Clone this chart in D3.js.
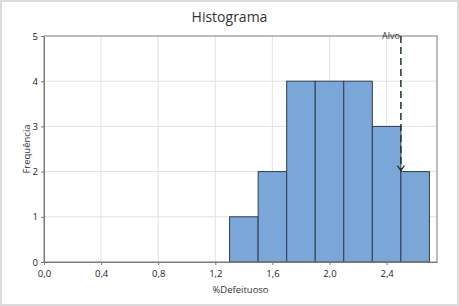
<!DOCTYPE html>
<html>
<head>
<meta charset="utf-8">
<script src="https://cdn.jsdelivr.net/npm/d3@7"></script>
<style>
  body { margin: 0; background: #fff; }
  svg { display: block; font-family: "Open Sans", "Noto Sans", sans-serif; }
</style>
</head>
<body>
<div id="chart"></div>
<script>
// bins of %Defeituoso (width 0.2) and their counts
var binStart = [1.3, 1.5, 1.7, 1.9, 2.1, 2.3, 2.5];
var binWidth = 0.2;
var counts = [1, 2, 4, 4, 4, 3, 2];
var xTicks = [0, 0.4, 0.8, 1.2, 1.6, 2.0, 2.4];
var yTicks = [0, 1, 2, 3, 4, 5];
var target = 2.5;
var targetArrowTo = 2; // frequency where the arrow stops

var W = 459, H = 306;
var m = { left: 44, right: 22, top: 36, bottom: 44 };

var svg = d3.select('#chart').append('svg')
  .attr('width', W)
  .attr('height', H);

svg.append('rect')
  .attr('x', 1).attr('y', 1)
  .attr('width', W - 2).attr('height', H - 2)
  .attr('fill', '#fff')
  .attr('stroke', '#dcdcdc')
  .attr('stroke-width', 2);

var x = d3.scaleLinear().domain([0, 2.753]).range([m.left, W - m.right]);
var y = d3.scaleLinear().domain([0, 5]).range([H - m.bottom, m.top]);

// grid
svg.append('g').selectAll('line')
  .data(xTicks.slice(1))
  .enter().append('line')
  .attr('x1', function(d) { return x(d); })
  .attr('x2', function(d) { return x(d); })
  .attr('y1', y(0)).attr('y2', y(5))
  .attr('stroke', '#e3e3e3');

svg.append('g').selectAll('line')
  .data(yTicks.slice(1, 5))
  .enter().append('line')
  .attr('x1', x.range()[0]).attr('x2', x.range()[1])
  .attr('y1', function(d) { return y(d); })
  .attr('y2', function(d) { return y(d); })
  .attr('stroke', '#e3e3e3');

// bars
svg.append('g').selectAll('rect')
  .data(counts)
  .enter().append('rect')
  .attr('x', function(d, i) { return x(binStart[i]); })
  .attr('y', function(d) { return y(d); })
  .attr('width', function(d, i) { return x(binStart[i] + binWidth) - x(binStart[i]); })
  .attr('height', function(d) { return y(0) - y(d); })
  .attr('fill', '#7ba7d8')
  .attr('stroke', '#2e3d4d')
  .attr('stroke-width', 1);

// frame
svg.append('rect')
  .attr('x', x.range()[0]).attr('y', y(5))
  .attr('width', x.range()[1] - x.range()[0])
  .attr('height', y(0) - y(5))
  .attr('fill', 'none')
  .attr('stroke', '#7a7a7a');

// axes
var fmt = function(d) { return d3.format('.1f')(d).replace('.', ','); };

var xAxis = svg.append('g')
  .attr('transform', 'translate(0,' + y(0) + ')')
  .call(d3.axisBottom(x).tickValues(xTicks).tickFormat(fmt).tickSize(3).tickSizeOuter(0));
var yAxis = svg.append('g')
  .attr('transform', 'translate(' + x(0) + ',0)')
  .call(d3.axisLeft(y).tickValues(yTicks).tickFormat(d3.format('d')).tickSize(3).tickSizeOuter(0));

[xAxis, yAxis].forEach(function(a) {
  a.select('.domain').attr('stroke', '#7a7a7a');
  a.selectAll('.tick line').attr('stroke', '#7a7a7a');
  a.selectAll('.tick text')
    .attr('fill', '#222')
    .style('font-size', '9.5px')
    .style('font-family', '"Open Sans", "Noto Sans", sans-serif');
});
xAxis.selectAll('.tick text').attr('dy', '0.9em');

// target line
svg.append('line')
  .attr('x1', x(target)).attr('x2', x(target))
  .attr('y1', y(5)).attr('y2', y(targetArrowTo) - 2)
  .attr('stroke', '#1e3a1e')
  .attr('stroke-width', 1.5)
  .attr('stroke-dasharray', '7,4');

svg.append('path')
  .attr('d', 'M' + (x(target) - 3.5) + ',' + (y(targetArrowTo) - 6) +
             'L' + x(target) + ',' + (y(targetArrowTo) - 1) +
             'L' + (x(target) + 3.5) + ',' + (y(targetArrowTo) - 6))
  .attr('fill', 'none')
  .attr('stroke', '#1e2a1e')
  .attr('stroke-width', 1.2);

svg.append('text')
  .attr('x', x(target) - 1)
  .attr('y', y(5) + 3)
  .attr('text-anchor', 'end')
  .style('font-size', '9px')
  .attr('fill', '#333')
  .text('Alvo');

// titles
svg.append('text')
  .attr('x', W / 2).attr('y', 22)
  .attr('text-anchor', 'middle')
  .style('font-size', '14px')
  .attr('fill', '#333')
  .text('Histograma');

svg.append('text')
  .attr('x', (x.range()[0] + x.range()[1]) / 2)
  .attr('y', 293)
  .attr('text-anchor', 'middle')
  .style('font-size', '9.5px')
  .attr('fill', '#333')
  .text('%Defeituoso');

svg.append('text')
  .attr('transform', 'translate(30,' + ((y(0) + y(5)) / 2) + ') rotate(-90)')
  .attr('text-anchor', 'middle')
  .style('font-size', '9.5px')
  .attr('fill', '#333')
  .text('Frequência');
</script>
</body>
</html>
